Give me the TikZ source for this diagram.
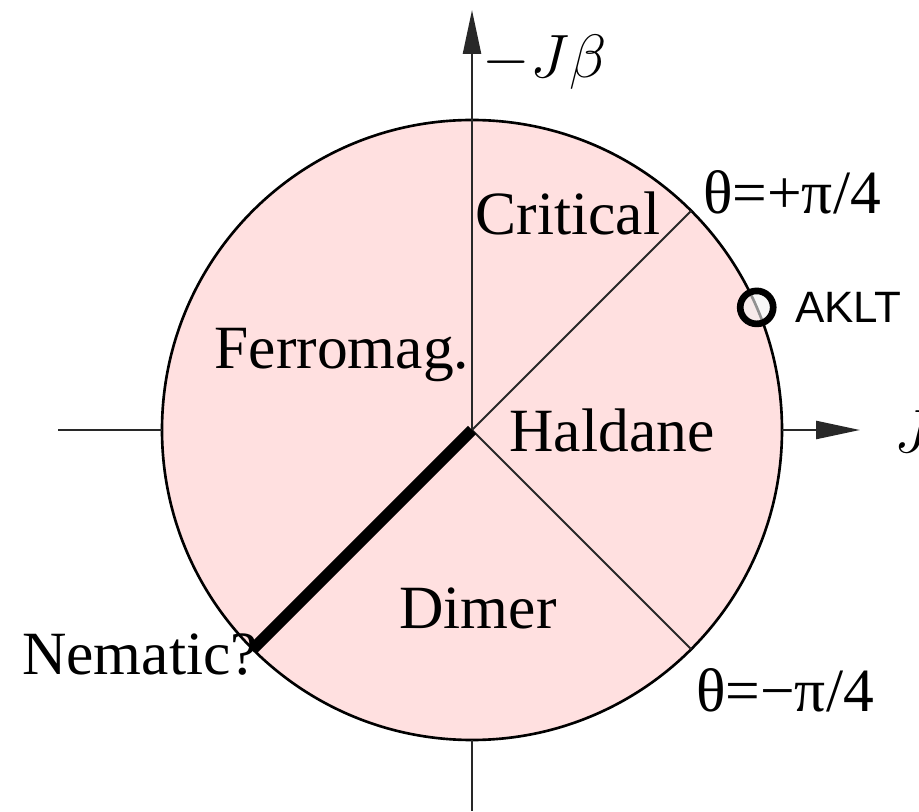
\documentclass[tikz,border=0pt]{standalone}
\usepackage{fontspec}
\setmainfont{Liberation Serif}
\setsansfont{Liberation Sans}
\usetikzlibrary{arrows.meta}

\begin{document}
\begin{tikzpicture}[x=0.02cm,y=0.02cm]

    % Farben
    \definecolor{phasepink}{RGB}{255,224,224}
    \definecolor{axisgray}{RGB}{40,40,40}

    % Maße
    \def\R{310}

    \tikzset{
        phase/.style={font=\fontsize{35}{38}\selectfont},
        axislabel/.style={font=\Huge, scale=1.4},
        axisline/.style={draw=axisgray, line width=1.4pt},
        axisarrow/.style={-{Triangle[length=44*0.02cm, width=18*0.02cm]}},
        border/.style={draw=axisgray, line width=1.1pt}
    }

    % Rahmen
    \useasboundingbox (-472,-381) rectangle (447,430);

    % Kreis
    \fill[phasepink] (0,0) circle (\R);
    \draw[line width=1.5pt] (0,0) circle (\R);

    % Punkte
    \coordinate (o) at (0,0);
    \coordinate (top) at (90:\R);
    \coordinate (bot) at (-90:\R);
    \coordinate (lft) at (180:\R);
    \coordinate (rgt) at (0:\R);
    \coordinate (pp) at (45:\R);
    \coordinate (pm) at (-45:\R);
    \coordinate (nem) at (225:\R);

    % Achsen
    \coordinate (ytip) at (0,420);
    \coordinate (yend) at (0,-381);
    \coordinate (xtip) at (388,0);
    \coordinate (xend) at (-414,0);
    \draw[axisline, axisarrow] (o) -- (ytip);
    \draw[axisline] (bot) -- (yend);
    \draw[axisline, axisarrow] (rgt) -- (xtip);
    \draw[axisline] (lft) -- (xend);

    % Phasengrenzen
    \draw[border] (o) -- (pp);
    \draw[border] (o) -- (pm);
    \draw[line width=6.5pt] (o) -- (nem);

    % Achsenbeschriftung
    \node[axislabel, anchor=west] (jb) at (2,368) {$-J\beta$};
    \node[axislabel, anchor=west] (jx) at (414,-2) {$J$};

    % Phasen
    \node[phase] (crit) at (96,217) {Critical};
    \node[phase] (ferro) at (-130,75) {Ferromag.};
    \node[phase] (hald) at (140,0) {Haldane};
    \node[phase] (dimer) at (6,-178) {Dimer};
    \node[phase] (nematic) at (-332,-225) {Nematic?};

    % Winkel
    \node[phase] (tplus) at (320,238) {θ=+π/4};
    \node[phase] (tminus) at (313,-260) {θ=−π/4};

    % AKLT-Punkt
    \draw[line width=3.8pt, fill=gray!10, fill opacity=0.6] (23.3:\R) circle (16.5);
    \node[font=\sffamily\fontsize{25}{27}\selectfont, anchor=west] (aklt) at (317,123) {AKLT};

\end{tikzpicture}
\end{document}
